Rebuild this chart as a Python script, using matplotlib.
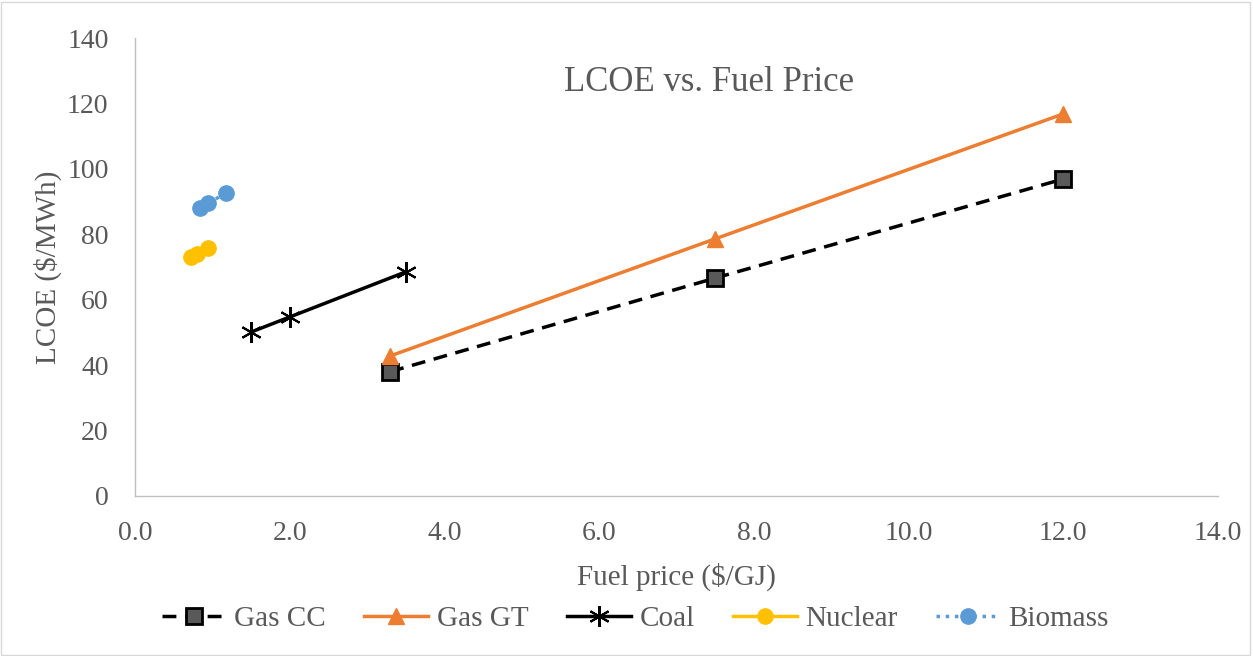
import matplotlib
matplotlib.use("Agg")
import matplotlib.pyplot as plt
from matplotlib.patches import Rectangle

plt.rcParams['font.family'] = ['Liberation Serif', 'DejaVu Serif']

# data
gas_cc_x = [3.3, 7.5, 12.0]
gas_cc_y = [38.0, 66.6, 96.9]
gas_gt_x = [3.3, 7.5, 12.0]
gas_gt_y = [42.8, 78.6, 116.8]
coal_x = [1.5, 2.0, 3.5]
coal_y = [50.1, 54.7, 68.5]
nuclear_x = [0.72, 0.80, 0.95]
nuclear_y = [73.1, 74.0, 75.8]
biomass_x = [0.84, 0.95, 1.18]
biomass_y = [88.0, 89.6, 92.6]

x_ticks = [0, 2, 4, 6, 8, 10, 12, 14]
y_ticks = [0, 20, 40, 60, 80, 100, 120, 140]

txt = '#595959'

fig = plt.figure(figsize=(12.53, 6.56), dpi=100)
ax = fig.add_axes([0.1077, 0.244, 0.8643, 0.698])

ax.plot(gas_cc_x, gas_cc_y, color='black', lw=2.5, ls=(0, (4, 2.5)),
        marker='s', ms=11, mfc='#595959', mec='black', mew=2, label='Gas CC')
ax.plot(gas_gt_x, gas_gt_y, color='#ED7D31', lw=2.5,
        marker='^', ms=11, mfc='#ED7D31', mec='#ED7D31', label='Gas GT')
ax.plot(coal_x, coal_y, color='black', lw=2.5,
        marker=(6, 2, 0), ms=15, mec='black', mew=1.5, label='Coal')
ax.plot(nuclear_x, nuclear_y, color='#FFC000', lw=2.5,
        marker='o', ms=11, mfc='#FFC000', mec='#FFC000', label='Nuclear')
ax.plot(biomass_x, biomass_y, color='#5B9BD5', lw=2.5, ls=':',
        marker='o', ms=11, mfc='#5B9BD5', mec='#5B9BD5', label='Biomass')

ax.set_xlim(0, 14)
ax.set_ylim(0, 140)
ax.set_xticks(x_ticks)
ax.set_xticklabels(['%.1f' % v for v in x_ticks])
ax.set_yticks(y_ticks)
ax.tick_params(axis='both', length=0, labelsize=20, colors=txt)
ax.tick_params(axis='x', pad=18)
ax.tick_params(axis='y', pad=19)
for s in ['top', 'right']:
    ax.spines[s].set_visible(False)
for s in ['left', 'bottom']:
    ax.spines[s].set_color('#BFBFBF')
    ax.spines[s].set_linewidth(1)

ax.set_xlabel('Fuel price ($/GJ)', fontsize=21, color=txt, labelpad=12)
ax.set_ylabel('LCOE ($/MWh)', fontsize=21, color=txt, labelpad=4)
ax.text(0.53, 0.903, 'LCOE vs. Fuel Price', transform=ax.transAxes,
        ha='center', va='center', fontsize=25, color=txt)

leg = fig.legend(loc='center', bbox_to_anchor=(0.507, 0.056), ncol=5, frameon=False,
                 fontsize=21, handlelength=2.2, columnspacing=1.3, handletextpad=0.3)
for t in leg.get_texts():
    t.set_color(txt)

fig.patches.append(Rectangle((0.001, 0.002), 0.997, 0.995, transform=fig.transFigure,
                             fill=False, edgecolor='#D9D9D9', lw=1))

fig.savefig('out.png', dpi=100)
